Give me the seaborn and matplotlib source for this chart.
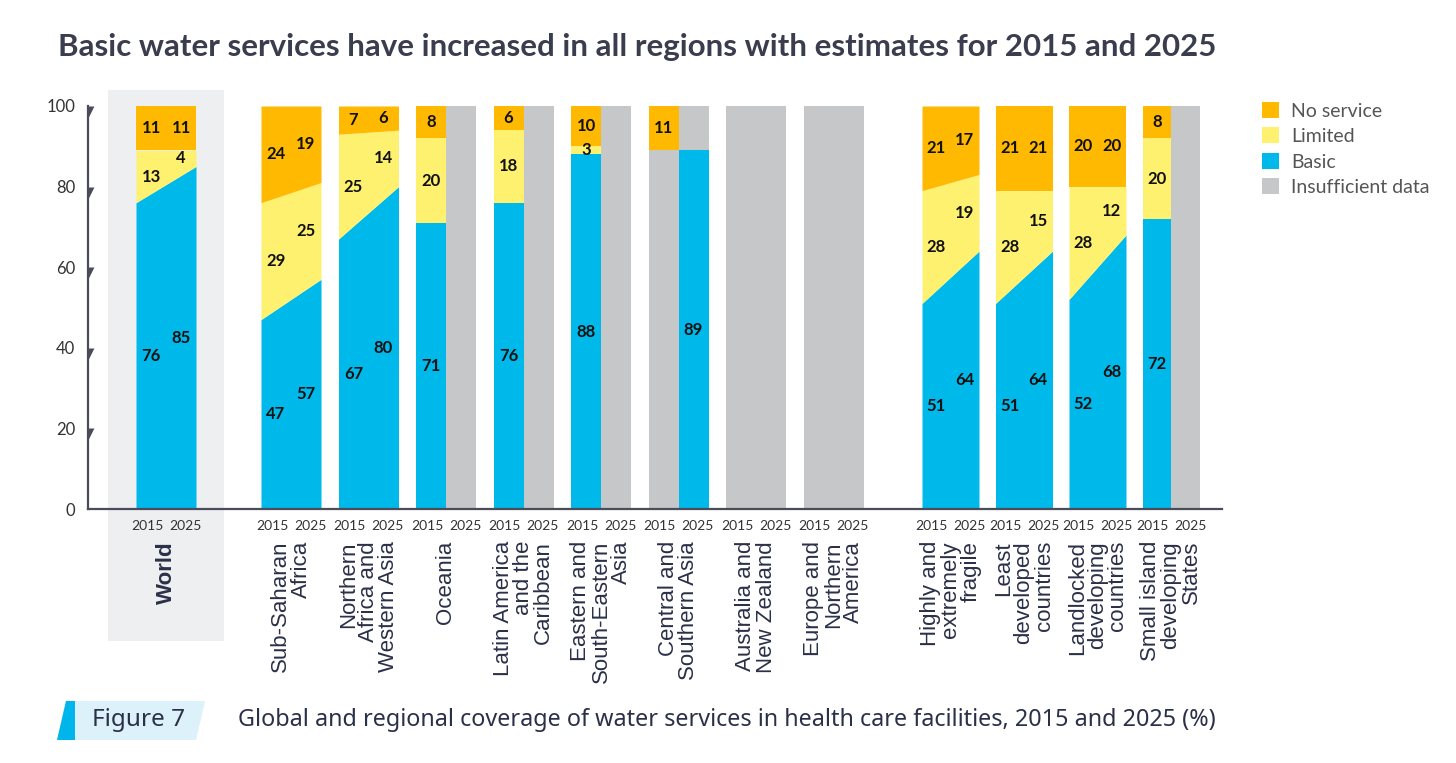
import numpy as np
import matplotlib
matplotlib.use("Agg")
import matplotlib.pyplot as plt
import seaborn as sns
from matplotlib.patches import Patch, Polygon, Rectangle
from matplotlib.transforms import blended_transform_factory

nan = np.nan

# ---------------- data ----------------
regions = ["World", "Sub-Saharan\nAfrica", "Northern\nAfrica and\nWestern Asia", "Oceania",
           "Latin America\nand the\nCaribbean", "Eastern and\nSouth-Eastern\nAsia",
           "Central and\nSouthern Asia", "Australia and\nNew Zealand", "Europe and\nNorthern\nAmerica",
           "Highly and\nextremely\nfragile", "Least\ndeveloped\ncountries",
           "Landlocked\ndeveloping\ncountries", "Small island\ndeveloping\nStates"]
section = [0, 1, 1, 1, 1, 1, 1, 1, 1, 2, 2, 2, 2]
years = ["2015", "2025"]

basic_2015 = [76, 47, 67, 71, 76, 88, nan, nan, nan, 51, 51, 52, 72]
limited_2015 = [13, 29, 25, 20, 18, 3, nan, nan, nan, 28, 28, 28, 20]
none_2015 = [11, 24, 7, 8, 6, 10, 11, nan, nan, 21, 21, 20, 8]
basic_2025 = [85, 57, 80, nan, nan, nan, 89, nan, nan, 64, 64, 68, nan]
limited_2025 = [4, 25, 14, nan, nan, nan, nan, nan, nan, 19, 15, 12, nan]
none_2025 = [11, 19, 6, nan, nan, nan, nan, nan, nan, 17, 21, 20, nan]

legend_labels = ["No service", "Limited", "Basic", "Insufficient data"]
yticks = [0, 20, 40, 60, 80, 100]

title = "Basic water services have increased in all regions with estimates for 2015 and 2025"
fig_label = "Figure 7"
caption = "Global and regional coverage of water services in health care facilities, 2015 and 2025 (%)"

# ---------------- style ----------------
ORANGE = "#FFB900"
YELLOW = "#FFF170"
BLUE = "#00B9EB"
GREY = "#C6C7C9"
NAVY = "#2B3049"
AXIS = "#4A4B5B"

sns.set_theme(style="white")
plt.rcParams["font.family"] = ["Lato", "DejaVu Sans"]

W, H = 1456, 763
fig = plt.figure(figsize=(W / 100, H / 100), dpi=100)
ax = fig.add_axes([88 / W, (H - 509) / H, (1222 - 88) / W, (509 - 106) / H])
ax.set_facecolor("none")

# layout: group centres (px-like units), per-section pitch and bar width
sec_start = [0.0, 125.0, 784.5]
sec_pitch = [77.5, 77.5, 73.5]
sec_width = [30.0, 30.0, 28.5]
centers, widths = [], []
count = {0: 0, 1: 0, 2: 0}
for s in section:
    centers.append(sec_start[s] + count[s] * sec_pitch[s])
    widths.append(sec_width[s])
    count[s] += 1

ax.set_xlim(-78, 1056)
ax.set_ylim(0, 100)

lab_kw = dict(ha="center", va="center", fontsize=12, color="#111111", fontweight="bold", zorder=5)


def ok(v):
    return not (v is None or (isinstance(v, float) and np.isnan(v)))


def draw_bar(x0, x1, b, l, n):
    xc = (x0 + x1) / 2
    ax.bar(xc, 100, width=x1 - x0, bottom=0, color=GREY, lw=0, zorder=2)
    if ok(b):
        ax.bar(xc, b, width=x1 - x0, bottom=0, color=BLUE, lw=0, zorder=3)
        ax.text(xc, b / 2, f"{b:g}", **lab_kw)
    if ok(n):
        ax.bar(xc, n, width=x1 - x0, bottom=100 - n, color=ORANGE, lw=0, zorder=3)
        ax.text(xc, 100 - n / 2, f"{n:g}", **lab_kw)
    if ok(l) and ok(b) and ok(n):
        top = 100 - n
        ax.bar(xc, top - b, width=x1 - x0, bottom=b, color=YELLOW, lw=0, zorder=3)
        ax.text(xc, (b + top) / 2, f"{l:g}", **lab_kw)


for i, c in enumerate(centers):
    w = widths[i]
    v15 = (basic_2015[i], limited_2015[i], none_2015[i])
    v25 = (basic_2025[i], limited_2025[i], none_2025[i])
    full15 = all(ok(v) for v in v15)
    full25 = all(ok(v) for v in v25)
    if full15 and full25:
        xs = [c - w, c + w]
        b = np.array([v15[0], v25[0]], float)
        t = 100 - np.array([v15[2], v25[2]], float)
        ax.fill_between(xs, 0, b, color=BLUE, lw=0, zorder=3)
        ax.fill_between(xs, b, t, color=YELLOW, lw=0, zorder=3)
        ax.fill_between(xs, t, 100, color=ORANGE, lw=0, zorder=3)
        for k, (vals, xc) in enumerate([(v15, c - w / 2), (v25, c + w / 2)]):
            bb, ll, nn = vals
            ax.text(xc, bb / 2, f"{bb:g}", **lab_kw)
            ax.text(xc, (bb + 100 - nn) / 2, f"{ll:g}", **lab_kw)
            ax.text(xc, 100 - nn / 2, f"{nn:g}", **lab_kw)
    else:
        draw_bar(c - w, c, *v15)
        draw_bar(c, c + w, *v25)

# world background panel
trans_xf = blended_transform_factory(ax.transData, fig.transFigure)
ax.add_patch(Rectangle((-58, 1 - 641 / H), 116, (641 - 90) / H, transform=trans_xf,
                       color="#EEEFF1", lw=0, zorder=0, clip_on=False))

# axes styling
sns.despine(ax=ax, top=True, right=True)
for s in ["left", "bottom"]:
    ax.spines[s].set_color(AXIS)
    ax.spines[s].set_linewidth(1.6)
    ax.spines[s].set_zorder(6)
ax.set_yticks(yticks)
ax.set_yticklabels([str(t) for t in yticks], fontsize=12, color="#333333")
ax.tick_params(axis="both", length=0)
ax.tick_params(axis="y", pad=9)
ax.grid(False)

# triangle tick markers on the y axis
tri = [(0, 0), (1, 0), (0, -2), (0, 0)]
trans_ay = blended_transform_factory(ax.transAxes, ax.transData)
ax.scatter([0] * (len(yticks) - 1), yticks[1:], marker=tri, s=17 ** 2, color=AXIS,
           transform=trans_ay, clip_on=False, zorder=7, lw=0)

# year labels, spread slightly around each group's centre
xt, xl = [], []
for i, c in enumerate(centers):
    xt += [c - 19, c + 19]
    xl += years
ax.set_xticks(xt)
ax.set_xticklabels(xl, fontsize=10, color="#333333")
ax.tick_params(axis="x", pad=8)

for i, c in enumerate(centers):
    ax.text(c, 1 - 541 / H, regions[i], transform=trans_xf, rotation=90, ha="center", va="top",
            multialignment="right", fontsize=16, color=NAVY, linespacing=0.95,
            family=["Liberation Sans", "DejaVu Sans"],
            fontweight="bold" if i == 0 else "normal")

# legend
handles = [Patch(facecolor=c, edgecolor="none") for c in [ORANGE, YELLOW, BLUE, GREY]]
fig.legend(handles, legend_labels, loc="upper left", bbox_to_anchor=(1262 / W, 1 - 102 / H),
           frameon=False, fontsize=14, labelcolor="#555555", handlelength=0.88, handleheight=0.88,
           labelspacing=0.4, handletextpad=0.6, borderaxespad=0, borderpad=0)

# title
fig.text(58 / W, 1 - 47 / H, title, fontsize=22.5, fontweight="bold", color="#3A3D4D",
         ha="left", va="center")

# figure badge
badge = Polygon([(66 / W, 1 - 701 / H), (205 / W, 1 - 701 / H), (196 / W, 1 - 740 / H),
                 (57 / W, 1 - 740 / H)], closed=True, transform=fig.transFigure,
                facecolor="#DDF1FA", edgecolor="none")
fig.patches.append(badge)
strip = Polygon([(66 / W, 1 - 701 / H), (75 / W, 1 - 701 / H), (75 / W, 1 - 740 / H),
                 (57 / W, 1 - 740 / H)], closed=True, transform=fig.transFigure,
                facecolor="#00B5EA", edgecolor="none")
fig.patches.append(strip)
fig.text(139 / W, 1 - 720 / H, fig_label, fontsize=17.5, color=NAVY, ha="center", va="center",
         family=["Noto Sans", "DejaVu Sans"])
fig.text(238 / W, 1 - 720 / H, caption, fontsize=16.8, color=NAVY, ha="left", va="center",
         family=["Noto Sans", "DejaVu Sans"])

fig.savefig("out.png", dpi=100)
